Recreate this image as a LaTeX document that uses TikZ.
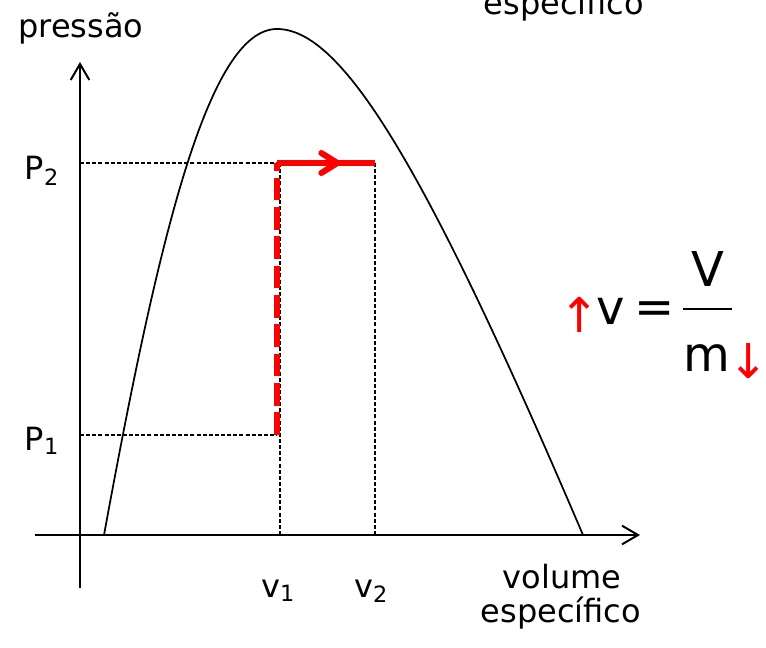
\documentclass[tikz,border=0pt]{standalone}
\usepackage{fontspec}
\setmainfont{DejaVu Sans}
\usetikzlibrary{arrows.meta}
\definecolor{pathred}{RGB}{255,0,0}

\begin{document}
\begin{tikzpicture}[x=0.75pt, y=-0.75pt, >={Straight Barb[length=12pt, width=14pt]},
  axis/.style={line width=1.5pt, ->},
  guide/.style={line width=1.2pt, dash pattern=on 3pt off 1.6pt},
  redpath/.style={pathred, line width=4.5pt},
  lbl/.style={font=\fontsize{24}{28}\selectfont, inner sep=0pt, anchor=base},
  big/.style={font=\fontsize{36}{40}\selectfont, inner sep=0pt}]
  \useasboundingbox (0,0) rectangle (766,648);

  % axes
  \coordinate (ybot) at (80,588);
  \coordinate (ytop) at (80,62);
  \coordinate (xleft) at (35,535);
  \coordinate (xright) at (640,535);
  \draw[axis] (ybot) -- (ytop);
  \draw[axis] (xleft) -- (xright);

  % saturation dome
  \draw[line width=1.3pt] (104,535) .. controls (158,240) and (208,29) .. (277,29)
    .. controls (342,29) and (425,165) .. (583,535);

  % state points
  \coordinate (p1y) at (80,435);
  \coordinate (p2y) at (80,163);
  \coordinate (s1) at (277,435);
  \coordinate (s2) at (277,163);
  \coordinate (s3) at (375,163);
  \coordinate (smid) at (343,163);
  \coordinate (v1x) at (280,535);
  \coordinate (v2x) at (375,535);

  \draw[guide] (p2y) -- (s2);
  \draw[guide] (p1y) -- (s1);
  \draw[guide] (280,163) -- (v1x);
  \draw[guide] (s3) -- (v2x);

  % process path
  \draw[redpath, dash pattern=on 17pt off 5pt] (s1) -- (s2);
  \draw[redpath] (s2) -- (s3);
  \draw[redpath, -{Straight Barb[length=12pt, width=15pt, line cap=round]}] (s2) -- (smid);

  % labels
  \node[lbl] (pres) at (81,38) {pressão};
  \node[lbl] (P2) at (42,180) {P\textsubscript{2}};
  \node[lbl] (P1) at (42,450) {P\textsubscript{1}};
  \node[lbl] (v1) at (278,597) {v\textsubscript{1}};
  \node[lbl] (v2) at (371,597) {v\textsubscript{2}};
  \node[lbl] (vol) at (562,588) {volume};
  \node[lbl] (esp) at (561,622) {específico};
  \node[lbl] (esptop) at (564,15) {específico};

  % v = V/m
  \node[big, text=pathred] (up) at (580,315) {\makebox[0.4em]{↑}};
  \node[big] (vs) at (611,311) {v};
  \node[big] (eq) at (655,313) {=};
  \node[big] (Vb) at (708,269) {V};
  \node[big] (mb) at (707,358) {m};
  \node[big, text=pathred] (down) at (749,361) {\makebox[0.4em]{↓}};
  \coordinate (barl) at (683,309);
  \coordinate (barr) at (732,309);
  \draw[line width=2.2pt] (barl) -- (barr);
\end{tikzpicture}
\end{document}
